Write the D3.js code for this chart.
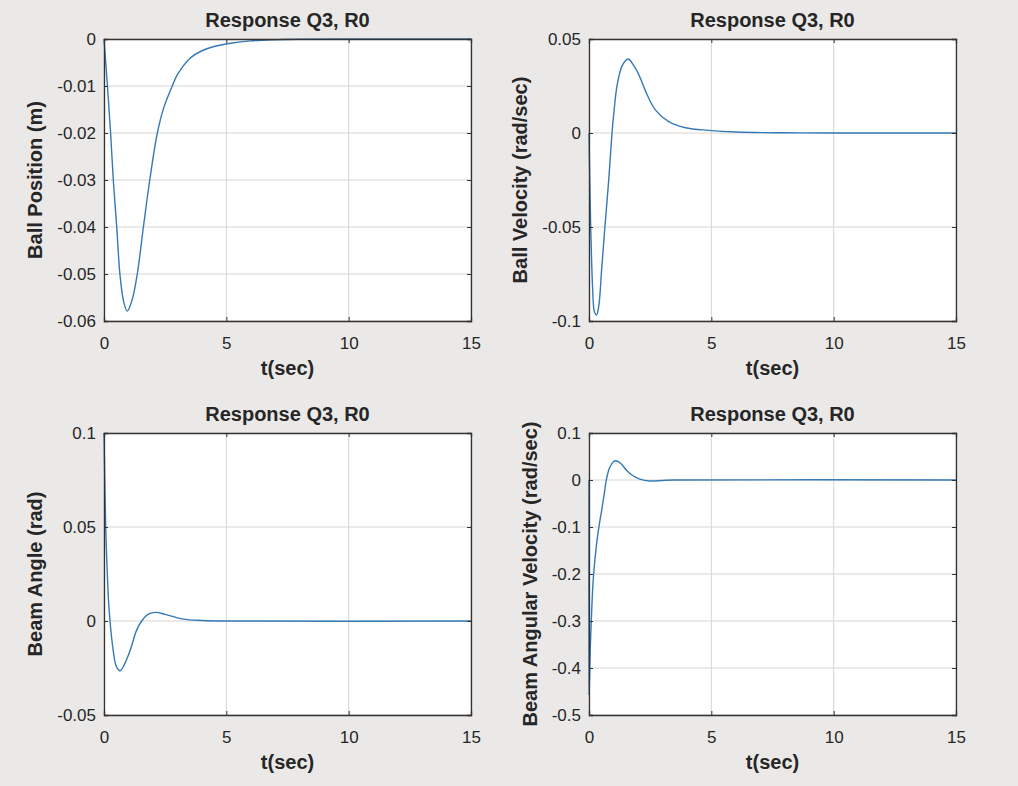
<!DOCTYPE html>
<html>
<head>
<meta charset="utf-8">
<script src="https://cdn.jsdelivr.net/npm/d3@7"></script>
<style>
  body { margin: 0; background: #ebe9e7; }
  svg { display: block; }
  text { font-family: "Liberation Sans", Arial, sans-serif; fill: #262626; }
</style>
</head>
<body>
<svg id="chart" width="1018" height="786"></svg>
<script>
// -------------- DATA --------------
const titleText = "Response Q3, R0";
const xLabel = "t(sec)";
const xTicks = [0, 5, 10, 15];

// ball position (m)
const posT = [0, 0.14, 0.27, 0.38, 0.52, 0.65, 0.8, 0.95, 1.15, 1.36, 1.61, 1.87, 2.18, 2.45, 2.79, 3.0, 3.54, 4.0, 4.5, 5.18, 6.0, 7.0, 8.0, 10, 15];
const posV = [0, -0.01, -0.02, -0.03, -0.04, -0.05, -0.0558, -0.0579, -0.0555, -0.05, -0.04, -0.03, -0.02, -0.0145, -0.01, -0.0076, -0.004, -0.0025, -0.0016, -0.0009, -0.0004, -0.00015, -0.00005, 0, 0];
const posTicks = [0, -0.01, -0.02, -0.03, -0.04, -0.05, -0.06];

// ball velocity
const velT = [0, 0.07, 0.15, 0.22, 0.31, 0.4, 0.52, 0.65, 0.8, 0.94, 1.02, 1.15, 1.36, 1.6, 1.8, 2.04, 2.38, 2.72, 3.26, 3.94, 4.89, 6.0, 8.0, 10, 15];
const velV = [0, -0.05, -0.083, -0.095, -0.0968, -0.092, -0.072, -0.05, -0.026, 0, 0.0113, 0.0255, 0.036, 0.0394, 0.0365, 0.0309, 0.0202, 0.0122, 0.006, 0.0028, 0.0014, 0.0005, 0.0001, 0, 0];
const velTicks = [0.05, 0, -0.05, -0.1];

// beam angle (rad)
const angT = [0, 0.07, 0.11, 0.18, 0.245, 0.38, 0.5, 0.65, 0.8, 1.06, 1.33, 1.54, 1.8, 2.11, 2.5, 3.24, 4.0, 5.0, 15];
const angV = [0.1, 0.05, 0.034, 0.012, 0, -0.016, -0.024, -0.0265, -0.024, -0.016, -0.005, 0, 0.0035, 0.0046, 0.0035, 0.001, 0.0003, 0, 0];
const angTicks = [0.1, 0.05, 0, -0.05];

// beam angular velocity (rad/sec)
const avT = [0, 0.005, 0.05, 0.11, 0.18, 0.31, 0.42, 0.52, 0.62, 0.72, 0.85, 1.0, 1.1, 1.3, 1.53, 1.8, 2.08, 2.49, 3.0, 3.5, 15];
const avV = [0, -0.456, -0.36, -0.278, -0.207, -0.136, -0.095, -0.064, -0.03, 0.003, 0.027, 0.039, 0.041, 0.035, 0.021, 0.009, 0.002, -0.002, -0.001, 0, 0];
const avTicks = [0.1, 0, -0.1, -0.2, -0.3, -0.4, -0.5];

const panels = [
  { t: posT, v: posV, ticks: posTicks, dom: [-0.06, 0], ylab: "Ball Position (m)", x: 104, y: 39, labOff: -62 },
  { t: velT, v: velV, ticks: velTicks, dom: [-0.1, 0.05], ylab: "Ball Velocity (rad/sec)", x: 589, y: 39, labOff: -62 },
  { t: angT, v: angV, ticks: angTicks, dom: [-0.05, 0.1], ylab: "Beam Angle (rad)", x: 104, y: 433, labOff: -62 },
  { t: avT, v: avV, ticks: avTicks, dom: [-0.5, 0.1], ylab: "Beam Angular Velocity (rad/sec)", x: 589, y: 433, labOff: -52 }
];

const size = { w: 367, h: 282 };
const svg = d3.select("#chart");
const fmt = (d) => String(+d.toFixed(3));

panels.forEach((p) => {
  let g = svg.append("g").attr("transform", `translate(${p.x}, ${p.y})`);

  let xScale = d3.scaleLinear().domain([0, 15]).range([0, size.w]);
  let yScale = d3.scaleLinear().domain(p.dom).range([size.h, 0]);

  g.append("rect")
    .attr("width", size.w)
    .attr("height", size.h)
    .attr("fill", "#fff");

  // grid
  g.append("g")
    .selectAll("line")
    .data(xTicks)
    .join("line")
    .attr("x1", (d) => xScale(d))
    .attr("x2", (d) => xScale(d))
    .attr("y1", 0)
    .attr("y2", size.h)
    .attr("stroke", "#d9d4d2");
  g.append("g")
    .selectAll("line")
    .data(p.ticks)
    .join("line")
    .attr("y1", (d) => yScale(d))
    .attr("y2", (d) => yScale(d))
    .attr("x1", 0)
    .attr("x2", size.w)
    .attr("stroke", "#d9d4d2");

  // line
  let line = d3.line()
    .x((d, i) => xScale(p.t[i]))
    .y((d) => yScale(d))
    .curve(d3.curveCatmullRom.alpha(0.5));
  g.append("path")
    .datum(p.v)
    .attr("d", line)
    .attr("fill", "none")
    .attr("stroke", "#3479b8")
    .attr("stroke-width", 1.4);

  // axes with inward ticks
  let xAxis = d3.axisBottom(xScale).tickValues(xTicks).tickSize(-4).tickPadding(16).tickFormat(d3.format("d"));
  let xa = g.append("g").attr("transform", `translate(0, ${size.h})`).call(xAxis);
  let yAxis = d3.axisLeft(yScale).tickValues(p.ticks).tickSize(-4).tickPadding(8).tickFormat(fmt);
  let ya = g.append("g").call(yAxis);
  let xTop = d3.axisTop(xScale).tickValues(xTicks).tickSize(-4).tickFormat("");
  let xt = g.append("g").call(xTop);
  let yRight = d3.axisRight(yScale).tickValues(p.ticks).tickSize(-4).tickFormat("");
  let yr = g.append("g").attr("transform", `translate(${size.w}, 0)`).call(yRight);

  [xa, ya, xt, yr].forEach((a) => {
    a.select(".domain").attr("stroke", "#333").attr("stroke-width", 1.3);
    a.selectAll(".tick line").attr("stroke", "#333");
    a.selectAll("text")
      .style("font-family", "'Liberation Sans', Arial, sans-serif")
      .style("font-size", "17px")
      .attr("fill", "#404040");
  });

  g.append("text")
    .attr("x", size.w / 2)
    .attr("y", -12)
    .attr("text-anchor", "middle")
    .style("font-size", "20px")
    .style("font-weight", "bold")
    .text(titleText);

  g.append("text")
    .attr("x", size.w / 2)
    .attr("y", size.h + 54)
    .attr("text-anchor", "middle")
    .style("font-size", "20px")
    .style("font-weight", "bold")
    .attr("fill", "#404040")
    .text(xLabel);

  g.append("text")
    .attr("transform", "rotate(-90)")
    .attr("x", -size.h / 2)
    .attr("y", p.labOff)
    .attr("text-anchor", "middle")
    .style("font-size", "20px")
    .style("font-weight", "bold")
    .attr("fill", "#404040")
    .text(p.ylab);
});
</script>
</body>
</html>
